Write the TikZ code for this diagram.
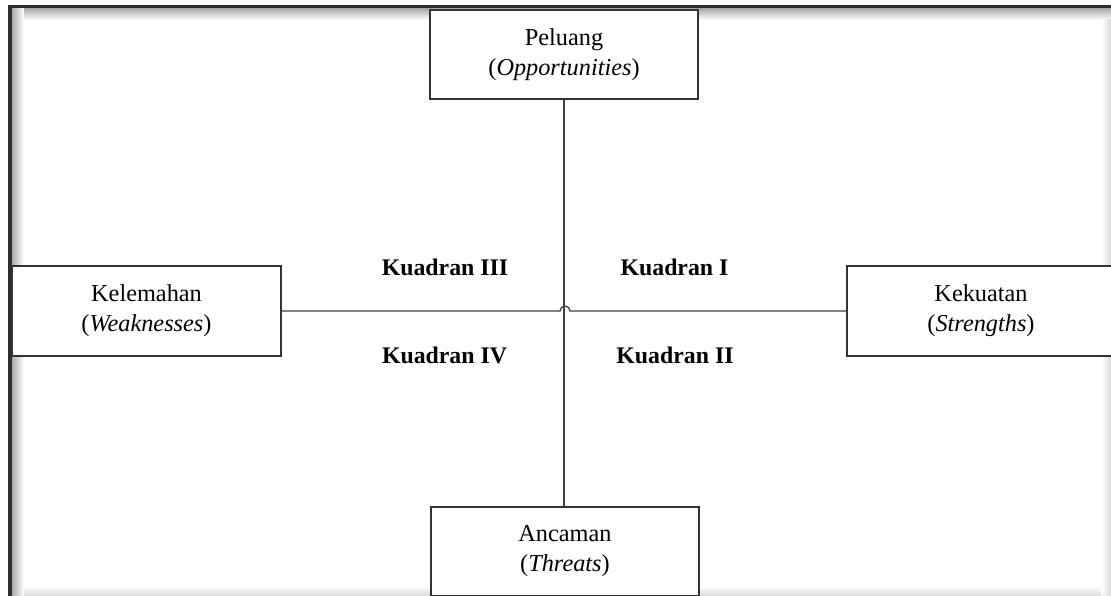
\documentclass[tikz,border=0pt]{standalone}
\usepackage{fontspec}
\setmainfont{Liberation Serif}
\begin{document}
\begin{tikzpicture}[x=1pt,y=-1pt,
  box/.style={draw=black!80, line width=1.4pt, fill=white, align=center,
    inner sep=0pt, font=\fontsize{24.3}{30}\selectfont},
  quad/.style={anchor=base, inner sep=0pt, font=\fontsize{23.8}{27}\selectfont\bfseries},
  conn/.style={draw=black!75, line width=1.3pt}]
\useasboundingbox (0,0) rectangle (1111,596);
% frame with shadow
\fill[white] (0,0) rectangle (1111,596);
\shade[left color=black!35, right color=white] (11,8) rectangle (24,596);
\shade[top color=black!35, bottom color=white] (24,8) rectangle (1111,20);
\shade[left color=white, right color=black!15] (1101,20) rectangle (1111,596);
\shade[top color=white, bottom color=black!15] (24,586) rectangle (1101,596);
\fill[black!82] (8,5) rectangle (11.5,596);
\fill[black!82] (8,5) rectangle (1111,8.5);
% boxes
\node[box, minimum width=268pt, minimum height=89pt] (pel) at (564,54.5)
  {Peluang\\(\textit{Opportunities})};
\node[box, minimum width=269pt, minimum height=90pt] (kel) at (146.5,311)
  {Kelemahan\\(\textit{Weaknesses})};
\node[box, minimum width=268pt, minimum height=90pt] (kek) at (981,311)
  {Kekuatan\\(\textit{Strengths})};
\node[box, minimum width=268pt, minimum height=89pt] (anc) at (565,551.5)
  {Ancaman\\(\textit{Threats})};
% connectors
\coordinate (hopL) at (560,311);
\path[conn] (pel.south) -- (pel.south |- anc.north);
\path[conn] (kel.east) -- (hopL) arc[start angle=180, end angle=0, radius=5pt] -- (kek.west);
% labels
\node[quad] (q3) at (445,275) {Kuadran III};
\node[quad] (q1) at (674.5,275) {Kuadran I};
\node[quad] (q4) at (444.5,363) {Kuadran IV};
\node[quad] (q2) at (675,363) {Kuadran II};
\end{tikzpicture}
\end{document}
